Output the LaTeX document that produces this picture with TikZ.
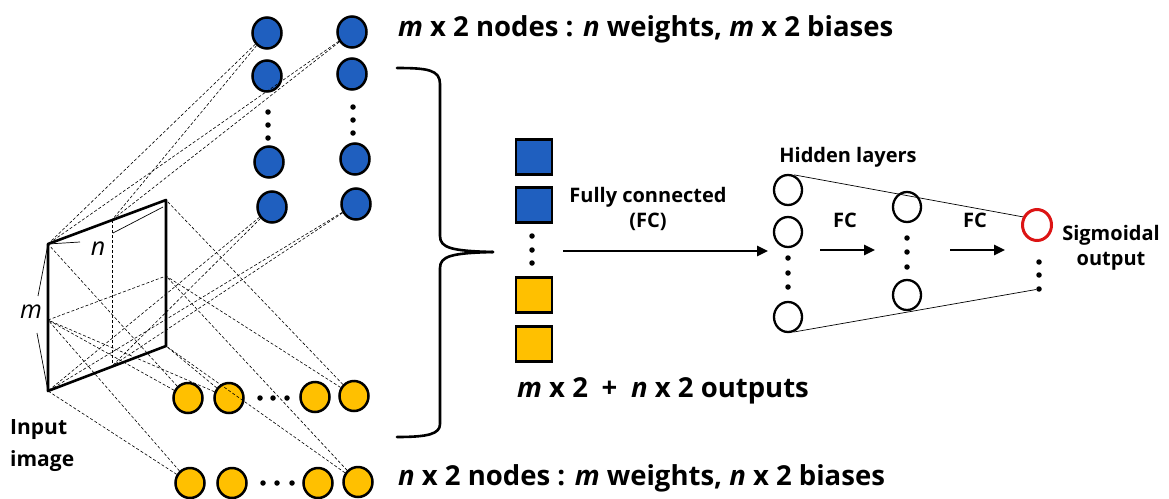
\documentclass[tikz,border=0pt]{standalone}
\usepackage{fontspec}
\setmainfont{Open Sans}
\usetikzlibrary{shapes.geometric,arrows.meta}
\definecolor{nblue}{RGB}{31,95,191}
\definecolor{nyellow}{RGB}{255,192,0}
\definecolor{nred}{RGB}{220,20,20}
\tikzset{
  bcirc/.style={ellipse,draw=black,line width=2.5pt,fill=nblue,minimum width=29pt,minimum height=31pt,inner sep=0pt},
  ycirc/.style={ellipse,draw=black,line width=2.5pt,fill=nyellow,minimum width=29pt,minimum height=30pt,inner sep=0pt},
  hcirc/.style={ellipse,draw=black,line width=2.3pt,fill=white,minimum width=28pt,minimum height=30pt,inner sep=0pt},
  rcirc/.style={ellipse,draw=nred,line width=3pt,fill=white,minimum width=29pt,minimum height=31pt,inner sep=0pt},
  bsq/.style={rectangle,draw=black,line width=2.4pt,fill=nblue,minimum width=36pt,minimum height=35pt,inner sep=0pt},
  ysq/.style={rectangle,draw=black,line width=2.4pt,fill=nyellow,minimum width=36pt,minimum height=35pt,inner sep=0pt},
  dotn/.style={circle,fill=black,minimum size=5.5pt,inner sep=0pt},
  wire/.style={dashed,line width=0.6pt,dash pattern=on 3pt off 2pt},
  edge/.style={line width=2.6pt,line cap=round,line join=round},
  thinline/.style={line width=0.7pt},
  bigarrow/.style={line width=2.6pt,-{Triangle[length=11pt,width=10pt]}},
  lbl/.style={font=\bfseries\fontsize{27.5}{32}\selectfont,inner sep=0pt},
  sm/.style={font=\bfseries\fontsize{20}{25}\selectfont,inner sep=0pt,align=center},
  ital/.style={font=\itshape\fontsize{25}{28}\selectfont,inner sep=0pt}
}
\begin{document}
\begin{tikzpicture}[x=1pt,y=-1pt]
\useasboundingbox (0,0) rectangle (1169,498);
% parallelogram coordinates
\coordinate (TL) at (48,244);
\coordinate (TR) at (166,200);
\coordinate (BR) at (166,346);
\coordinate (BL) at (48,391);
\coordinate (TM) at (112,220);
\coordinate (BM) at (112,366);
\coordinate (LM) at (48,320);
\coordinate (RM) at (166,276);
% blue circles
\node[bcirc] (b11) at (267,33) {};
\node[bcirc] (b12) at (267,76) {};
\node[bcirc] (b13) at (269,162) {};
\node[bcirc] (b14) at (272,207) {};
\node[bcirc] (b21) at (352,32) {};
\node[bcirc] (b22) at (352,74) {};
\node[bcirc] (b23) at (355,159) {};
\node[bcirc] (b24) at (356,204) {};
\foreach \i/\y in {1/112,2/125,3/138} \node[dotn] (bd1\i) at (268,\y) {};
\foreach \i/\y in {1/107,2/120,3/133} \node[dotn] (bd2\i) at (353,\y) {};
% yellow circles
\node[ycirc] (y1) at (188,398) {};
\node[ycirc] (y2) at (229,398) {};
\node[ycirc] (y3) at (315,397) {};
\node[ycirc] (y4) at (354,396) {};
\foreach \i/\x in {1/260,2/273,3/287} \node[dotn] (yd\i) at (\x,398) {};
\node[ycirc] (z1) at (190,483) {};
\node[ycirc] (z2) at (232,483) {};
\node[ycirc] (z3) at (318,483) {};
\node[ycirc] (z4) at (358,482) {};
\foreach \i/\x in {1/263,2/277,3/292} \node[dotn] (zd\i) at (\x,483) {};
% dashed wires
\draw[wire] (b11) -- (TL);
\draw[wire] (b11) -- (TM);
\draw[wire] (b21) -- (TL);
\draw[wire] (b21) -- (TM);
\draw[wire] (b14) -- (BL);
\draw[wire] (b14) -- (BM);
\draw[wire] (b24) -- (BL);
\draw[wire] (b24) -- (BM);
\draw[wire] (y1) -- (TL);
\draw[wire] (y1) -- (LM);
\draw[wire] (y2) -- (LM);
\draw[wire] (y2) -- (BR);
\draw[wire] (y4) -- (TR);
\draw[wire] (y4) -- (RM);
\draw[wire] (z1) -- (LM);
\draw[wire] (z1) -- (BL);
\draw[wire] (z4) -- (RM);
\draw[wire] (z4) -- (BR);
\draw[wire] (TM) -- (BM);
\draw[wire] (LM) -- (RM);
% parallelogram
\draw[edge] (TL) -- (TR) -- (BR) -- (BL) -- cycle;
% m and n labels
\node[ital] (nlab) at (98,249) {n};
\node[ital] (mlab) at (31,312) {m};
\draw[thinline] (TL) -- (80,242);
\draw[thinline] (113,233) -- (163,207);
\draw[thinline] (TL) -- (38,296);
\draw[thinline] (BL) -- (37,333);
% input image
\node[sm,align=left,anchor=west,font=\bfseries\fontsize{21}{32}\selectfont] (inp) at (10,446) {Input\\image};
% labels
\node[lbl,anchor=west] (toplab) at (398,29) {\textit{m} x 2 nodes : \textit{n} weights, \textit{m} x 2 biases};
\node[lbl,anchor=west] (botlab) at (398,478) {\textit{n} x 2 nodes : \textit{m} weights, \textit{n} x 2 biases};
% brace
\draw[line width=2.6pt,line cap=round] (397,68) .. controls (428,68) and (440,70) .. (440,84) -- (440,236) .. controls (440,248) and (452,251) .. (493,252);
\draw[line width=2.6pt,line cap=round] (493,252) .. controls (452,253) and (440,256) .. (440,268) -- (440,424) .. controls (440,434) and (428,437) .. (397,437);
% squares
\node[bsq] (s1) at (534,157) {};
\node[bsq] (s2) at (534,205) {};
\node[ysq] (s3) at (534,295) {};
\node[ysq] (s4) at (534,344) {};
\foreach \i/\y in {1/236,2/250,3/263} \node[dotn] (sd\i) at (532,\y) {};
\node[lbl,anchor=west] (outlab) at (517,391) {\textit{m} x 2\enspace+\enspace\textit{n} x 2 outputs};
\node[sm] (fclab) at (648,209) {Fully connected\\(FC)};
\coordinate (a1s) at (563,251);
\coordinate (a1e) at (768,251);
\draw[bigarrow] (a1s) -- (a1e);
% hidden layers
\node[sm] (hid) at (848,157) {Hidden layers};
\node[hcirc] (h1) at (788,190) {};
\node[hcirc] (h2) at (788,232) {};
\node[hcirc] (h3) at (788,317) {};
\foreach \i/\y in {1/258,2/273,3/287} \node[dotn] (hd\i) at (788,\y) {};
\node[hcirc] (g1) at (907,207) {};
\node[hcirc] (g2) at (907,295) {};
\foreach \i/\y in {1/238,2/252,3/267} \node[dotn] (gd\i) at (907,\y) {};
\node[rcirc] (r) at (1037,225) {};
\foreach \i/\y in {1/262,2/275,3/289} \node[dotn] (rd\i) at (1039,\y) {};
\draw[thinline] (h1.north) ++(6,1) coordinate (ft) -- (r.150);
\draw[thinline] (h3.-70) -- (rd3);
\coordinate (f1s) at (820,250);
\coordinate (f1e) at (875,250);
\coordinate (f2s) at (950,250);
\coordinate (f2e) at (1005,250);
\draw[bigarrow] (f1s) -- (f1e);
\draw[bigarrow] (f2s) -- (f2e);
\node[sm] (fc1) at (845,220) {FC};
\node[sm] (fc2) at (975,220) {FC};
\node[sm] (sig) at (1111,248) {Sigmoidal\\output};
\end{tikzpicture}
\end{document}
